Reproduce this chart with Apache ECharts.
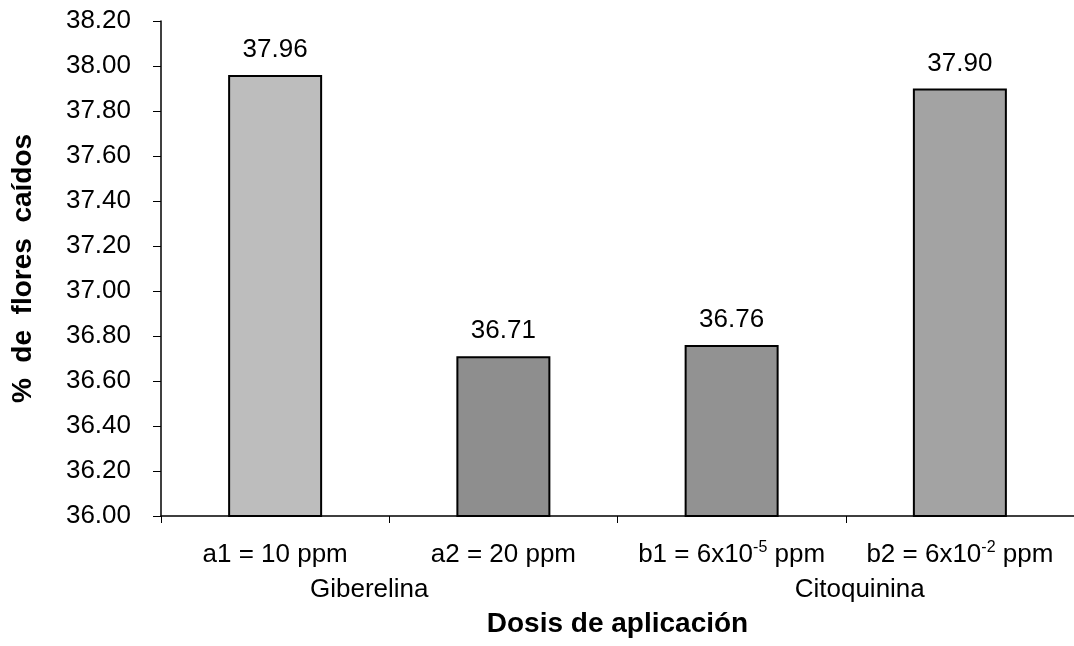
<!DOCTYPE html>
<html>
<head>
<meta charset="utf-8">
<script src="https://cdn.jsdelivr.net/npm/echarts@6/dist/echarts.min.js"></script>
<style>
html,body{margin:0;padding:0;background:#fff;}
#c{width:1074px;height:646px;}
</style>
</head>
<body>
<div id="c"></div>
<script>
var categories = ['a1 = 10 ppm', 'a2 = 20 ppm', 'b1 = 6x10^-5 ppm', 'b2 = 6x10^-2 ppm'];
var groups = ['Giberelina', 'Citoquinina'];
var values = [37.96, 36.71, 36.76, 37.90];
var barColors = ['#bdbdbd', '#8e8e8e', '#929292', '#a3a3a3'];
var yMin = 36.0, yMax = 38.2, yStep = 0.2;

var FONT = '"Liberation Sans", Arial, sans-serif';

function fmtCat(s) {
  var m = s.match(/^(.*10)\^(-?\d+)(.*)$/);
  if (m) return '{n|' + m[1] + '}{s|' + m[2] + '}{n|' + m[3] + '}';
  return '{n|' + s + '}';
}

var chart = echarts.init(document.getElementById('c'), null, {renderer: 'canvas'});
chart.setOption({
  animation: false,
  backgroundColor: '#fff',
  textStyle: {fontFamily: FONT, color: '#000'},
  grid: {left: 161, top: 21, width: 920, bottom: 130, containLabel: false},
  xAxis: [{
    type: 'category',
    data: categories,
    position: 'bottom',
    axisLine: {show: true, lineStyle: {color: '#000', width: 1.5}},
    axisTick: {show: true, length: 7, lineStyle: {color: '#000', width: 1}},
    axisLabel: {
      margin: 25,
      formatter: fmtCat,
      rich: {
        n: {fontFamily: FONT, fontSize: 26, color: '#000', lineHeight: 28},
        s: {fontFamily: FONT, fontSize: 16, color: '#000', padding: [0, 0, 15, 0], lineHeight: 28}
      }
    },
    name: 'Dosis de aplicación',
    nameLocation: 'middle',
    nameGap: 94,
    nameTextStyle: {fontFamily: FONT, fontSize: 28, fontWeight: 'bold', color: '#000'}
  }, {
    type: 'category',
    data: [
      {value: groups[0], textStyle: {padding: [0, 40, 0, 0]}},
      {value: groups[1], textStyle: {padding: [0, 0, 0, 28]}}
    ],
    position: 'bottom',
    axisLine: {show: false},
    axisTick: {show: false},
    axisLabel: {margin: 61, fontFamily: FONT, fontSize: 26, color: '#000'}
  }],
  yAxis: {
    type: 'value',
    min: yMin, max: yMax, interval: yStep,
    axisLine: {show: true, lineStyle: {color: '#000', width: 1.5}},
    axisTick: {show: true, length: 8, lineStyle: {color: '#000', width: 1}},
    splitLine: {show: false},
    axisLabel: {
      margin: 30, fontFamily: FONT, fontSize: 26, color: '#000',
      formatter: function (v) { return v.toFixed(2); }
    },
    name: '%  de  flores  caídos',
    nameLocation: 'middle',
    nameGap: 124,
    nameTextStyle: {fontFamily: FONT, fontSize: 28, fontWeight: 'bold', color: '#000'}
  },
  series: [{
    type: 'bar',
    xAxisIndex: 0,
    barWidth: 94,
    data: values.map(function (v, i) {
      return {value: v, itemStyle: {color: barColors[i]}};
    }),
    itemStyle: {borderColor: '#000', borderWidth: 2},
    label: {
      show: true, position: 'top', distance: 12,
      fontFamily: FONT, fontSize: 26, color: '#000',
      formatter: function (p) { return p.value.toFixed(2); }
    }
  }]
});
</script>
</body>
</html>
